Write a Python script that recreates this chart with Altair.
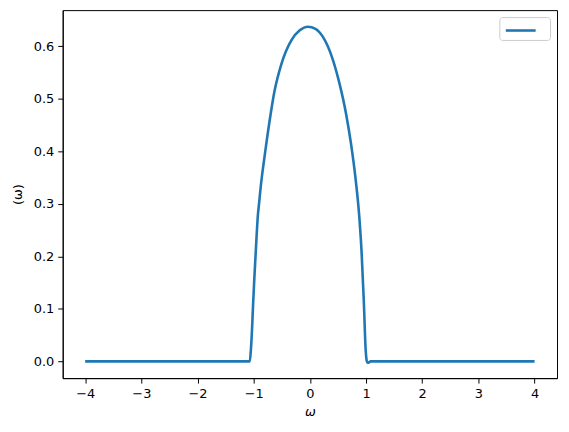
import altair as alt
import pandas as pd

omega = [-4.0, -1.08, -1.07, -1.05, -1.03, -1.01, -0.99, -0.97, -0.95, -0.93, -0.90,
         -0.875, -0.80, -0.715, -0.63, -0.51, -0.33, -0.18, -0.035,
         0.10, 0.23, 0.41, 0.527, 0.645, 0.733, 0.81, 0.88, 0.92, 0.96, 0.994,
         1.015, 1.03, 1.05, 1.08, 4.0]
rho = [0.0, 0.0, 0.0, 0.022, 0.06, 0.11, 0.155, 0.195, 0.235, 0.272, 0.305,
       0.332, 0.395, 0.459, 0.514, 0.565, 0.611, 0.630, 0.637,
       0.633, 0.618, 0.574, 0.529, 0.471, 0.414, 0.351, 0.275, 0.21, 0.116, 0.021,
       0.0, -0.0025, -0.002, 0.0, 0.0]
series = [" "] * len(omega)

x_ticks = [-4, -3, -2, -1, 0, 1, 2, 3, 4]
y_ticks = [0.0, 0.1, 0.2, 0.3, 0.4, 0.5, 0.6]

df = pd.DataFrame({"omega": omega, "rho": rho, "s": series})

font = "DejaVu Sans"

chart = alt.Chart(df).mark_line(strokeWidth=2.6, interpolate="monotone").encode(
    x=alt.X("omega:Q",
            scale=alt.Scale(domain=[-4.4, 4.4], nice=False, zero=False),
            axis=alt.Axis(values=x_ticks, title="ω", titleFontStyle="italic",
                          labelExpr="replace(format(datum.value, 'd'), '-', '−')")),
    y=alt.Y("rho:Q",
            scale=alt.Scale(domain=[-0.0318, 0.6685], nice=False, zero=False),
            axis=alt.Axis(values=y_ticks, format=".1f", title="(ω)")),
    color=alt.Color("s:N", scale=alt.Scale(range=["#1f77b4"]),
                    legend=alt.Legend(title=None, orient="top-right", offset=7,
                                      symbolType="M-1.5,0H1.5", symbolSize=400,
                                      symbolStrokeWidth=2.6, symbolOffset=8,
                                      labelOffset=16,
                                      padding=2, strokeColor="#cccccc",
                                      fillColor="white", cornerRadius=3)),
).properties(
    width=497, height=370,
    autosize=alt.AutoSizeParams(type="none"),
    padding={"left": 55, "top": 1, "right": 4, "bottom": 45},
).configure_view(
    stroke="black", strokeWidth=1
).configure_axis(
    grid=False, domainColor="black", tickColor="black", tickSize=5,
    labelFont=font, titleFont=font, labelFontSize=13, titleFontSize=13,
    labelColor="black", titleColor="black", titleFontWeight="normal",
    labelPadding=4, domainWidth=1, tickWidth=1
).configure_axisY(
    titlePadding=9
).configure_axisX(
    titlePadding=6
).configure_legend(
    labelFont=font, labelFontSize=13
)

chart.save("out.html", embed_options={"renderer": "svg", "actions": False})
